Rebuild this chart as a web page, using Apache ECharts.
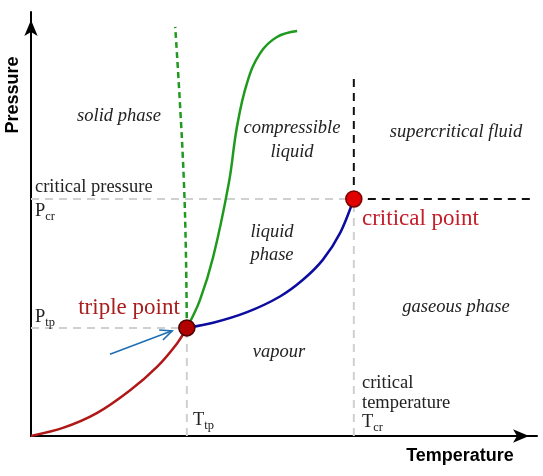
<!DOCTYPE html>
<html><head><meta charset="utf-8">
<script src="https://cdn.jsdelivr.net/npm/echarts@6/dist/echarts.min.js"></script>
<style>html,body{margin:0;padding:0;background:#fff}#c{width:543px;height:476px}</style>
</head><body><div id="c"></div>
<script>
// Phase diagram data (arbitrary units, 0..100 on both axes)
const sublimationT = [0, 6.3, 13.0, 19.6, 24.9, 28.9, 30.8];
const sublimationP = [0, 1.9, 5.4, 10.8, 16.3, 21.9, 25.5];
const vaporizationT = [30.8, 36.0, 42.7, 49.2, 53.8, 57.7, 61.1, 63.8];
const vaporizationP = [25.5, 26.7, 29.2, 32.9, 36.9, 41.6, 47.9, 55.9];
const meltingT = [30.8, 33.4, 36.0, 39.1, 40.7, 42.7, 45.3, 48.6, 52.6];
const meltingP = [25.5, 32.1, 42.2, 59.7, 72.9, 83.3, 90.3, 94.1, 95.5];
const anomalousMeltingT = [30.8, 30.6, 30.2, 29.4, 28.5];
const anomalousMeltingP = [25.5, 43.9, 60.4, 79.2, 96.5];
const triplePoint = [30.8, 25.5];
const criticalPoint = [63.8, 55.9];
const supercriticalTop = 84.4;
const supercriticalRight = 99.6;
const arrowFrom = [15.6, 19.3];
const arrowTo = [27.9, 24.8];

const zip = (a, b) => a.map((v, i) => [v, b[i]]);
const serif = '"Liberation Serif", "Times New Roman", serif';
const textCol = '#222';

function label(text, x, y, opts) {
  opts = opts || {};
  return {
    type: 'text', x: x, y: y, z: 10,
    style: Object.assign({
      text: text,
      font: (opts.italic ? 'italic ' : '') + (opts.size || 18.5) + 'px ' + serif,
      fill: opts.color || textCol,
      align: opts.align || 'center',
      verticalAlign: 'middle'
    }, opts.rich ? { rich: opts.rich } : {})
  };
}
const subRich = {
  m: { fontSize: 18.5, fontFamily: serif, fill: textCol, verticalAlign: 'bottom' },
  s: { fontSize: 12.5, fontFamily: serif, fill: textCol, verticalAlign: 'bottom', padding: [0, 0, -3, 0] }
};

const chart = echarts.init(document.getElementById('c'));
const gray = { color: '#d0d0d0', width: 2, type: [8, 6] };
const blackDash = { color: '#111', width: 2, type: [8, 6] };

chart.setOption({
  animation: false,
  grid: { left: 31, right: 6, top: 12, bottom: 40 },
  xAxis: {
    type: 'value', min: 0, max: 100,
    axisLine: { show: true, onZero: false, symbol: ['none', 'arrow'], symbolSize: [10, 16], symbolOffset: [0, -8], lineStyle: { color: '#000', width: 2 } },
    axisTick: { show: false }, axisLabel: { show: false }, splitLine: { show: false }
  },
  yAxis: {
    type: 'value', min: 0, max: 100,
    axisLine: { show: true, onZero: false, symbol: ['none', 'arrow'], symbolSize: [10, 16], symbolOffset: [0, -8], lineStyle: { color: '#000', width: 2 } },
    axisTick: { show: false }, axisLabel: { show: false }, splitLine: { show: false }
  },
  series: [
    { type: 'line', data: [[0, criticalPoint[1]], criticalPoint], symbol: 'none', lineStyle: gray, z: 1 },
    { type: 'line', data: [[0, triplePoint[1]], triplePoint], symbol: 'none', lineStyle: gray, z: 1 },
    { type: 'line', data: [[triplePoint[0], 0], triplePoint], symbol: 'none', lineStyle: gray, z: 1 },
    { type: 'line', data: [[criticalPoint[0], 0], criticalPoint], symbol: 'none', lineStyle: gray, z: 1 },
    { type: 'line', data: [criticalPoint, [criticalPoint[0], supercriticalTop]], symbol: 'none', lineStyle: blackDash, z: 2, clip: false },
    { type: 'line', data: [criticalPoint, [supercriticalRight, criticalPoint[1]]], symbol: 'none', lineStyle: blackDash, z: 2, clip: false },
    { type: 'line', data: zip(sublimationT, sublimationP), smooth: 0.3, symbol: 'none', lineStyle: { color: '#b01818', width: 2.5 }, z: 3 },
    { type: 'line', data: zip(vaporizationT, vaporizationP), smooth: 0.3, symbol: 'none', lineStyle: { color: '#0c0ca0', width: 2.5 }, z: 3 },
    { type: 'line', data: zip(meltingT, meltingP), smooth: 0.4, symbol: 'none', lineStyle: { color: '#1f9a1f', width: 2.5 }, z: 3 },
    { type: 'line', data: zip(anomalousMeltingT, anomalousMeltingP), smooth: 0.4, symbol: 'none', lineStyle: { color: '#1f9a1f', width: 2.5, type: [6, 4] }, z: 3 },
    {
      type: 'custom', z: 4,
      data: [[arrowFrom[0], arrowFrom[1], arrowTo[0], arrowTo[1]]],
      renderItem: function (params, api) {
        const a = api.coord([api.value(0), api.value(1)]);
        const b = api.coord([api.value(2), api.value(3)]);
        const ang = Math.atan2(b[1] - a[1], b[0] - a[0]);
        const L = 13, sp = 0.42;
        const h1 = [b[0] - L * Math.cos(ang - sp), b[1] - L * Math.sin(ang - sp)];
        const h2 = [b[0] - L * Math.cos(ang + sp), b[1] - L * Math.sin(ang + sp)];
        const st = { stroke: '#1f6fb4', lineWidth: 1.6, fill: null };
        return { type: 'group', children: [
          { type: 'line', shape: { x1: a[0], y1: a[1], x2: b[0], y2: b[1] }, style: st },
          { type: 'polyline', shape: { points: [h1, b, h2] }, style: st }
        ] };
      }
    },
    { type: 'scatter', data: [triplePoint], symbolSize: 16, itemStyle: { color: '#b00000', borderColor: '#4a0000', borderWidth: 1.5, opacity: 1 }, z: 5 },
    { type: 'scatter', data: [criticalPoint], symbolSize: 16, itemStyle: { color: '#e00000', borderColor: '#7a0000', borderWidth: 1.5, opacity: 1 }, z: 5 }
  ],
  graphic: [
    { type: 'text', x: 13, y: 95, rotation: Math.PI / 2, z: 10,
      style: { text: 'Pressure', font: 'bold 18px "Liberation Sans", Arial, sans-serif', fill: '#000', align: 'center', verticalAlign: 'middle' } },
    { type: 'text', x: 460, y: 456, z: 10,
      style: { text: 'Temperature', font: 'bold 18px "Liberation Sans", Arial, sans-serif', fill: '#000', align: 'center', verticalAlign: 'middle' } },
    label('solid phase', 119, 116, { italic: true }),
    label('compressible', 292, 128, { italic: true }),
    label('liquid', 292, 152, { italic: true }),
    label('supercritical fluid', 456, 132, { italic: true }),
    label('liquid', 272, 232, { italic: true }),
    label('phase', 272, 255, { italic: true }),
    label('gaseous phase', 456, 307, { italic: true }),
    label('vapour', 279, 352, { italic: true }),
    label('critical pressure', 35, 187, { align: 'left' }),
    label('{m|P}{s|cr}', 35, 211, { align: 'left', rich: subRich }),
    label('{m|P}{s|tp}', 35, 317, { align: 'left', rich: subRich }),
    label('{m|T}{s|tp}', 193, 420, { align: 'left', rich: subRich }),
    label('critical', 362, 383, { align: 'left' }),
    label('temperature', 362, 403, { align: 'left' }),
    label('{m|T}{s|cr}', 362, 422, { align: 'left', rich: subRich }),
    label('triple point', 129, 308, { size: 23, color: '#a81e1e' }),
    label('critical point', 362, 219, { align: 'left', size: 23, color: '#c41e2a' })
  ]
});
</script>
</body></html>
